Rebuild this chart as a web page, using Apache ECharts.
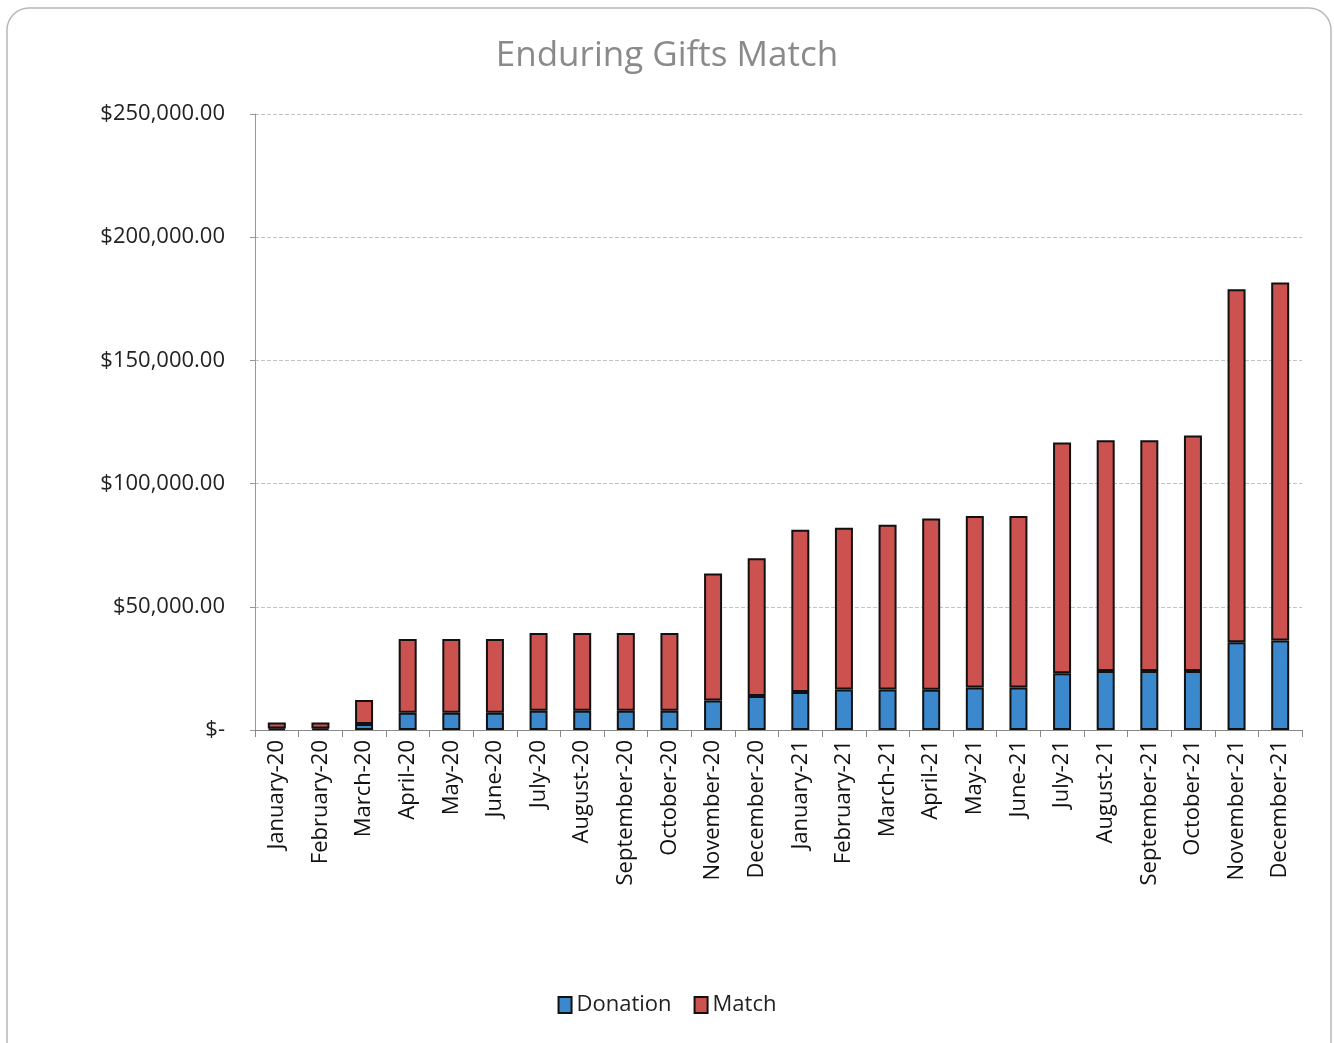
<!DOCTYPE html>
<html>
<head>
<meta charset="utf-8">
<script src="https://cdn.jsdelivr.net/npm/echarts@6/dist/echarts.min.js"></script>
<style>
html,body{margin:0;padding:0;background:#fff;}
#chart{width:1334px;height:1043px;}
</style>
</head>
<body>
<div id="chart"></div>
<script>
const categories = ["January-20","February-20","March-20","April-20","May-20","June-20","July-20","August-20","September-20","October-20","November-20","December-20","January-21","February-21","March-21","April-21","May-21","June-21","July-21","August-21","September-21","October-21","November-21","December-21"];
const donation = [600,600,2400,7000,7000,7000,7800,7800,7800,7800,12000,13800,15400,16400,16400,16300,17200,17200,23000,23900,23900,23900,35600,36300];
const match = [2400,2400,9800,29900,29900,29900,31600,31600,31600,31600,51500,55900,65900,65700,66900,69500,69700,69700,93700,93700,93700,95600,143300,145300];
const yTicks = [0,50000,100000,150000,200000,250000];

const chart = echarts.init(document.getElementById('chart'));
const fontFam = '"Open Sans", "DejaVu Sans", sans-serif';
function fmt(v){
  if (v === 0) return '$-';
  return '$' + v.toLocaleString('en-US',{minimumFractionDigits:2,maximumFractionDigits:2});
}
chart.setOption({
  backgroundColor:'#fff',
  animation:false,
  graphic:[{type:'rect',shape:{x:7,y:8,width:1324,height:1060,r:22},style:{fill:'none',stroke:'#b8b8b8',lineWidth:1.5},z:-1}],
  title:{text:'Enduring Gifts Match',left:'center',top:34,textStyle:{fontFamily:fontFam,fontSize:35,fontWeight:'normal',color:'#8a8a8a'}},
  legend:{bottom:22,left:'center',itemWidth:13,itemHeight:16,itemGap:22,
    textStyle:{fontFamily:fontFam,fontSize:22,color:'#222'},
    data:[{name:'Donation',icon:'rect'},{name:'Match',icon:'rect'}]},
  grid:{left:255,right:32,top:114,bottom:313,containLabel:false},
  xAxis:{type:'category',data:categories,boundaryGap:true,
    axisLine:{lineStyle:{color:'#888',width:1}},
    axisTick:{show:true,alignWithLabel:false,length:7,lineStyle:{color:'#888'}},
    axisLabel:{rotate:90,interval:0,fontFamily:fontFam,fontSize:22,color:'#111',margin:10}},
  yAxis:{type:'value',min:0,max:250000,interval:50000,
    axisLine:{show:true,lineStyle:{color:'#999'}},
    axisTick:{show:true,length:5,lineStyle:{color:'#999'}},
    splitLine:{lineStyle:{color:'#c4c4c4',type:'dashed',width:1}},
    axisLabel:{fontFamily:fontFam,fontSize:22,color:'#222',margin:30,
      formatter:function(v){return yTicks.indexOf(v)>=0?fmt(v):'';},
      rich:{}}},
  series:[
    {name:'Donation',type:'bar',stack:'total',data:donation,barWidth:18,
      itemStyle:{color:'#3b88cc',borderColor:'#111',borderWidth:2}},
    {name:'Match',type:'bar',stack:'total',data:match,barWidth:18,
      itemStyle:{color:'#cc5250',borderColor:'#111',borderWidth:2}}
  ]
});
</script>
</body>
</html>
